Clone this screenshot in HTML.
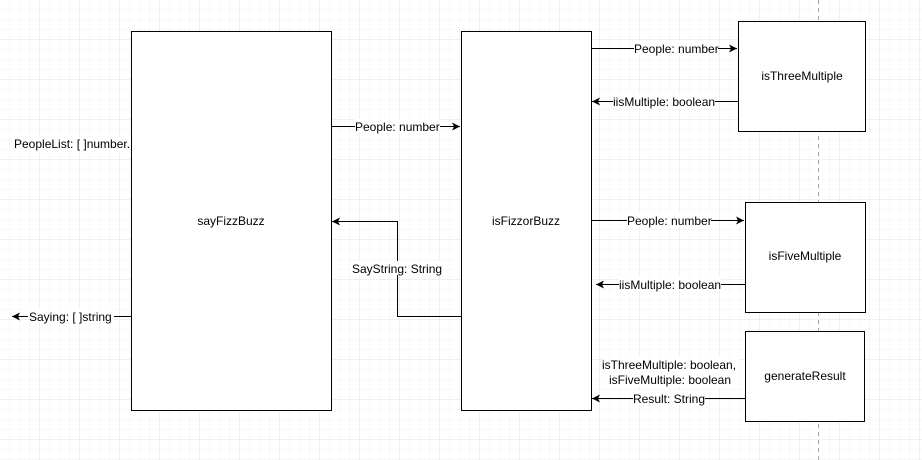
<!DOCTYPE html>
<html><head><meta charset="utf-8"><style>
html,body{margin:0;padding:0;background:#fff}
svg{display:block}
text{font-family:"Liberation Sans",Arial,sans-serif;font-size:12px;fill:#000}
</style></head><body>
<svg width="922" height="460" xmlns="http://www.w3.org/2000/svg">
<defs>
<pattern id="minor" width="10" height="10" patternUnits="userSpaceOnUse" x="0" y="0">
<path d="M10 0V10M0 10H10" stroke="#f1f1f1" stroke-width="1" fill="none"/>
</pattern>
<pattern id="major" width="40" height="40" patternUnits="userSpaceOnUse" x="0" y="0">
<path d="M40 0V40M0 40H40" stroke="#e2e2e2" stroke-width="1" fill="none"/>
</pattern>
<marker id="a" markerWidth="10" markerHeight="10" refX="8" refY="5" orient="auto" markerUnits="userSpaceOnUse">
<path d="M0 1L8 5L0 9L2 5Z" fill="#000"/>
</marker>
</defs>
<rect width="922" height="460" fill="url(#minor)"/>
<rect width="922" height="460" fill="url(#major)"/>
<line x1="818.5" y1="0" x2="818.5" y2="460" stroke="#aaa" stroke-dasharray="4 4"/>

<rect x="131.5" y="31.5" width="200" height="379" fill="#fff" stroke="#000"/>
<text x="231" y="225" text-anchor="middle">sayFizzBuzz</text>
<rect x="461.5" y="31.5" width="130" height="379" fill="#fff" stroke="#000"/>
<text x="526" y="225" text-anchor="middle">isFizzorBuzz</text>
<rect x="738.5" y="21.5" width="127" height="110" fill="#fff" stroke="#000"/>
<text x="802" y="80" text-anchor="middle">isThreeMultiple</text>
<rect x="745.5" y="202.5" width="120" height="110" fill="#fff" stroke="#000"/>
<text x="805" y="260" text-anchor="middle">isFiveMultiple</text>
<rect x="745.5" y="331.5" width="119" height="90" fill="#fff" stroke="#000"/>
<text x="805" y="380" text-anchor="middle">generateResult</text>

<g stroke="#000" fill="none">
<line x1="591" y1="48.5" x2="737" y2="48.5" marker-end="url(#a)"/>
<line x1="738" y1="101.5" x2="592" y2="101.5" marker-end="url(#a)"/>
<line x1="591" y1="220.5" x2="744" y2="220.5" marker-end="url(#a)"/>
<line x1="745" y1="284.5" x2="596" y2="284.5" marker-end="url(#a)"/>
<line x1="745" y1="398.5" x2="592" y2="398.5" marker-end="url(#a)"/>
<line x1="331" y1="126.5" x2="460" y2="126.5" marker-end="url(#a)"/>
<path d="M461 316.5H397.5V221.5H332" marker-end="url(#a)"/>
<line x1="131" y1="316.5" x2="12" y2="316.5" marker-end="url(#a)"/>
</g>

<g>
<rect x="634" y="41" width="84" height="14" fill="#fff"/><text x="634" y="53">People: number</text>
<rect x="613" y="94" width="102" height="14" fill="#fff"/><text x="613" y="106">iisMultiple: boolean</text>
<rect x="627" y="213" width="84" height="14" fill="#fff"/><text x="627" y="225">People: number</text>
<rect x="619" y="277" width="102" height="14" fill="#fff"/><text x="619" y="289">iisMultiple: boolean</text>
<rect x="633" y="391" width="72" height="14" fill="#fff"/><text x="633" y="403">Result: String</text>
<rect x="603" y="357" width="136" height="30" fill="#fff"/>
<text x="669" y="369" text-anchor="middle">isThreeMultiple: boolean,</text>
<text x="670" y="384" text-anchor="middle">isFiveMultiple: boolean</text>
<rect x="355" y="119" width="85" height="14" fill="#fff"/><text x="355" y="131">People: number</text>
<rect x="351" y="261" width="92" height="14" fill="#fff"/><text x="352" y="273">SayString: String</text>
<rect x="14" y="137" width="116" height="14" fill="#fff"/><text x="14" y="148">PeopleList: [ ]number.</text>
<rect x="28" y="309" width="86" height="14" fill="#fff"/><text x="29" y="321">Saying: [ ]string</text>
</g>
</svg>
</body></html>
